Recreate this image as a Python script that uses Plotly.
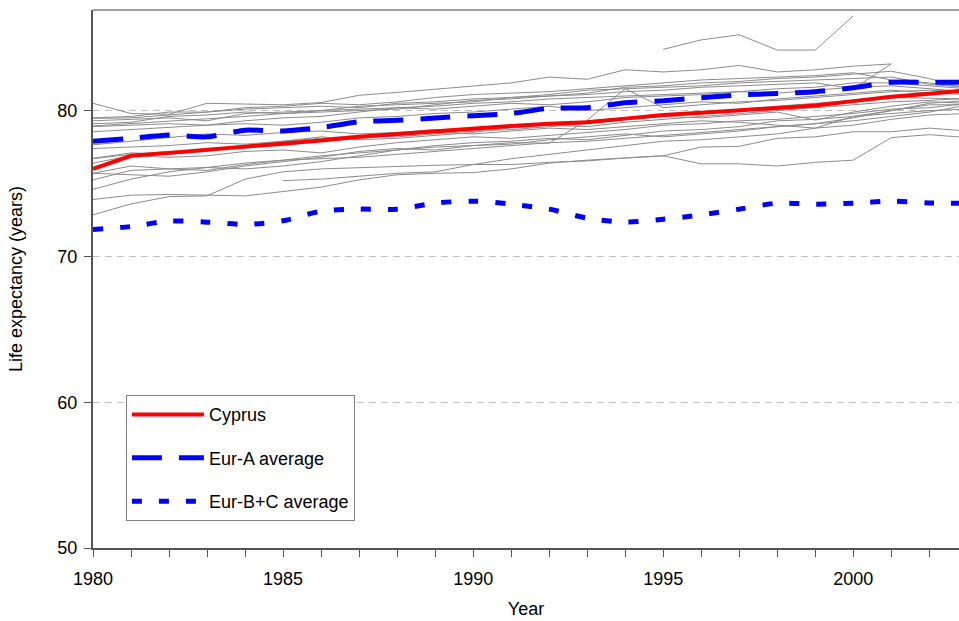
import plotly.graph_objects as go

years = list(range(1980, 2004))

cyprus = [76.0, 76.9, 77.1, 77.3, 77.5, 77.75, 77.95, 78.2, 78.4, 78.6, 78.8, 78.95,
          79.1, 79.2, 79.45, 79.7, 79.85, 80.0, 80.15, 80.35, 80.65, 80.95, 81.15, 81.4]
eur_a = [77.9, 78.1, 78.33, 78.2, 78.66, 78.6, 78.83, 79.24, 79.33, 79.49, 79.65, 79.79,
         80.16, 80.2, 80.54, 80.68, 80.88, 81.07, 81.18, 81.3, 81.57, 81.94, 81.94, 81.95]
eur_bc = [71.84, 72.05, 72.42, 72.35, 72.2, 72.44, 73.1, 73.24, 73.24, 73.65, 73.79, 73.58,
          73.24, 72.62, 72.35, 72.55, 72.85, 73.24, 73.65, 73.58, 73.65, 73.79, 73.67, 73.65]

N = None
countries = {
    "c01": [80.5, 79.8, 79.75, 80.5, 80.45, 80.4, 80.55, 81.05, 81.25, 81.45, 81.7, 81.9,
            82.3, 82.15, 82.8, 82.65, 82.8, 83.1, 82.65, 82.8, 83.05, 83.2, N, N],
    "c02": [N, N, N, N, N, N, N, N, N, N, N, N, N, N, N,
            84.2, 84.85, 85.2, 84.15, 84.15, 86.5, N, N, N],
    "c03": [79.5, 79.6, 79.9, 79.9, 80.1, 80.2, 80.3, 80.2, 80.5, 80.6, 80.8, 80.9,
            81.0, 81.1, 81.3, 81.4, 81.6, 81.7, 81.8, 81.9, 81.5, 83.2, N, N],
    "c04": [79.3, 79.4, 79.5, 79.3, 79.8, 79.9, 80.0, 80.3, 80.4, 80.5, 80.6, 80.9,
            81.1, 81.4, 81.5, 81.6, 81.7, 81.9, 82.0, 82.1, 82.2, 82.3, 81.8, 81.6],
    "c05": [79.1, 79.2, 79.6, 79.7, 79.9, 79.8, 80.0, 80.1, 80.2, 80.3, 80.5, 80.6,
            80.8, 80.9, 81.0, 81.1, 81.2, 81.3, 81.5, 81.6, 81.9, 81.9, 81.7, 81.5],
    "c06": [78.9, 79.0, 79.1, 79.0, 79.3, 79.5, 79.6, 79.9, 80.2, 80.1, 80.3, 80.5,
            80.4, 80.6, 80.9, 81.0, 81.1, 81.3, 81.2, 81.4, 81.6, 81.7, 81.5, 81.3],
    "c07": [78.55, 78.7, 78.9, 79.0, 79.1, 79.0, 79.2, 79.5, 79.6, 79.8, 79.9, 80.1,
            80.3, 80.0, 80.2, 80.4, 80.6, 80.5, 80.8, 81.0, 81.2, 81.4, 81.2, 81.1],
    "c08": [77.65, 77.9, 78.1, 78.4, 78.3, 78.5, 78.6, 78.4, 78.5, 78.7, 78.6, 78.8,
            79.0, 79.3, 79.5, 79.7, 79.8, 80.1, 80.3, 80.5, 80.7, 80.9, 80.85, 80.8],
    "c09": [77.4, 77.5, 77.6, 77.8, 77.7, 77.9, 78.1, 78.3, 78.2, 78.4, 78.6, 78.7,
            78.9, 79.1, 79.4, 79.6, 79.5, 79.7, 79.9, 79.35, 79.9, 80.3, 80.6, 80.5],
    "c10": [76.7, 77.0, 77.2, 77.3, 77.5, 77.6, 77.9, 78.1, 78.3, 78.5, 78.4, 78.6,
            78.8, 78.7, 78.9, 79.1, 79.3, 79.2, 79.0, 78.8, 79.6, 80.0, 80.4, 80.4],
    "c11": [76.4, 76.9, 76.8, 76.9, 77.2, 77.3, 77.1, 77.5, 77.8, 78.0, 78.2, 78.1,
            78.3, 78.5, 78.7, 79.0, 79.1, 79.3, 79.4, 79.6, 79.8, 80.1, 80.2, 80.5],
    "c12": [75.7, 76.2, 76.0, 75.9, 76.3, 76.6, 76.9, 77.1, 77.3, 77.6, 77.8, 77.9,
            78.1, 78.0, 78.3, 78.6, 78.7, 78.9, 79.3, 79.4, 79.6, 79.8, 80.0, 80.1],
    "c13": [75.25, 75.9, 76.0, 76.1, 76.0, 76.2, 76.5, 76.9, 77.3, 77.5, 77.6, 77.8,
            77.76, 79.35, 81.5, 80.2, 80.4, 80.6, 80.7, 80.9, 81.1, 81.3, 81.4, 81.3],
    "c14": [74.6, 75.3, 75.8, 76.1, 76.4, 76.6, 76.7, 76.8, 77.0, 77.2, 77.4, 77.6,
            77.8, 77.9, 78.1, 78.3, 78.5, 78.7, 78.9, 79.1, 79.5, 80.0, 80.5, 80.7],
    "c15": [73.9, 74.2, 74.25, 74.2, 74.15, 74.45, 74.75, 75.25, 75.6, 75.7, 75.75, 76.0,
            76.4, 76.6, 76.75, 76.9, 77.5, 77.55, 78.1, 78.2, 78.55, 78.55, 78.8, 78.6],
    "c16": [72.85, 73.6, 74.1, 74.15, 75.3, 75.8, 76.0, 76.1, 76.2, 76.25, 76.3, 76.3,
            76.45, 76.55, 76.75, 76.9, 76.35, 76.35, 76.2, 76.45, 76.6, 78.15, 78.35, 78.15],
    "c17": [N, N, N, N, N, 75.2, 75.3, 75.5, 75.7, 75.8, 76.3, 76.7,
            77.0, 77.3, 77.6, 77.9, 78.0, 78.2, 78.4, 78.8, 79.0, 79.4, 79.7, 79.8],
    "c18": [78.95, 79.1, 79.3, 79.4, 79.6, 79.8, 79.9, 80.0, 80.1, 80.4, 80.7, 80.8,
            81.0, 81.2, 81.6, 81.7, 81.9, 82.0, 82.2, 82.3, 82.5, 82.7, 82.2, 81.46],
    "c19": [79.47, 79.5, 79.7, 79.9, 80.2, 80.3, 80.5, 80.4, 80.6, 80.9, 81.1, 81.2,
            81.3, 81.5, 81.7, 81.9, 82.1, 82.2, 82.3, 82.4, 82.6, 82.1, 81.9, 81.6],
    "c20": [76.73, 77.1, 77.0, 77.2, 77.6, 77.9, 78.2, 78.0, 78.1, 78.3, 78.5, 78.9,
            79.0, 78.9, 79.2, 79.4, 79.6, 79.8, 80.0, 80.2, 80.4, 80.6, 80.7, 80.84],
    "c21": [75.7, 75.6, 75.5, 75.8, 76.2, 76.5, 76.8, 77.2, 77.4, 77.3, 77.6, 77.7,
            78.0, 78.2, 78.4, 78.2, 78.4, 78.6, 78.9, 79.1, 79.3, 79.6, 79.9, 80.38],
}

fig = go.Figure()

for name, vals in countries.items():
    fig.add_trace(go.Scatter(x=years, y=vals, mode="lines", showlegend=False,
                             line=dict(color="#8c8c8c", width=1), hoverinfo="skip",
                             connectgaps=False))

fig.add_trace(go.Scatter(x=years, y=cyprus, mode="lines", name="Cyprus",
                         legendgroup="a", line=dict(color="#ff0000", width=4)))
fig.add_trace(go.Scatter(x=years, y=eur_a, mode="lines", name="Eur-A average",
                         legendgroup="b",
                         line=dict(color="#0000ff", width=5, dash="30px,17px",
                                   shape="spline", smoothing=0.6)))
fig.add_trace(go.Scatter(x=years, y=eur_bc, mode="lines", name="Eur-B+C average",
                         legendgroup="c",
                         line=dict(color="#0000ff", width=5, dash="10px,17px",
                                   shape="spline", smoothing=0.8)))

font = "Arial, Liberation Sans, sans-serif"

fig.update_layout(
    width=959, height=621,
    margin=dict(l=93, r=0, t=10, b=73),
    paper_bgcolor="white", plot_bgcolor="white",
    font=dict(family=font, size=18, color="black"),
    showlegend=True,
    legend=dict(x=0.038, y=0.284, xanchor="left", yanchor="top",
                bgcolor="white", bordercolor="#808080", borderwidth=1,
                font=dict(family=font, size=18, color="black"),
                traceorder="grouped", tracegroupgap=17, itemwidth=72),
    xaxis=dict(range=[1980, 2002.78], dtick=5, tick0=1980, showgrid=False,
               ticks="outside", ticklen=7, tickcolor="#555555", tickwidth=1,
               ticklabelstandoff=6,
               showline=True, linecolor="#555555", linewidth=2, zeroline=False,
               minor=dict(dtick=1, ticks="outside", ticklen=7, tickcolor="#555555",
                          showgrid=False),
               title=dict(text="Year", standoff=15, font=dict(size=18))),
    yaxis=dict(range=[50, 86.9], dtick=10, tick0=50, showgrid=True,
               gridcolor="#c0c0c0", griddash="7px,5px", gridwidth=1,
               ticks="outside", ticklen=7, tickcolor="#555555", tickwidth=1,
               ticklabelstandoff=3,
               showline=True, linecolor="#555555", linewidth=2, zeroline=False,
               title=dict(text="Life expectancy (years)", standoff=30, font=dict(size=18))),
    shapes=[dict(type="line", xref="paper", yref="paper", x0=0, x1=1, y0=1, y1=1,
                 line=dict(color="#a0a0a0", width=2))],
)

fig.write_html("out.html")
